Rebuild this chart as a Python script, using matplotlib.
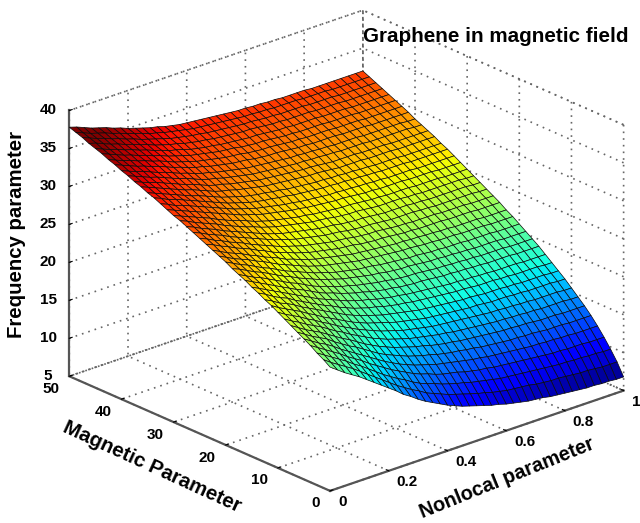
import numpy as np
import matplotlib
matplotlib.use('Agg')
import matplotlib.pyplot as plt

nonlocal_param = np.linspace(0, 1, 41)
magnetic_param = np.linspace(0, 50, 41)

# frequency parameter, one row per nonlocal value, columns run along magnetic parameter
freq = np.array([
    [21.3,21.9,22.4,23.0,23.5,24.0,24.5,25.0,25.5,26.0,26.4,26.9,27.3,27.8,28.2,28.6,29.1,29.5,29.9,30.3,30.7,31.1,31.5,31.9,32.2,32.6,33.0,33.4,33.7,34.1,34.4,34.8,35.1,35.5,35.8,36.2,36.5,36.8,37.2,37.5,37.8],
    [20.6,21.2,21.8,22.4,22.9,23.4,23.9,24.4,24.9,25.4,25.9,26.4,26.8,27.3,27.7,28.2,28.6,29.0,29.4,29.9,30.3,30.7,31.1,31.5,31.8,32.2,32.6,33.0,33.3,33.7,34.0,34.4,34.7,35.1,35.4,35.8,36.1,36.5,36.8,37.1,37.5],
    [19.9,20.6,21.2,21.8,22.3,22.8,23.3,23.9,24.4,24.9,25.3,25.8,26.3,26.8,27.2,27.7,28.1,28.5,28.9,29.4,29.8,30.2,30.6,31.0,31.4,31.8,32.1,32.5,32.9,33.3,33.6,34.0,34.3,34.7,35.0,35.4,35.7,36.1,36.4,36.7,37.1],
    [19.3,20.0,20.6,21.2,21.8,22.3,22.8,23.3,23.9,24.4,24.9,25.3,25.8,26.3,26.8,27.2,27.7,28.1,28.5,29.0,29.4,29.8,30.2,30.6,31.0,31.4,31.8,32.2,32.5,32.9,33.3,33.6,34.0,34.3,34.7,35.0,35.4,35.7,36.1,36.4,36.7],
    [18.7,19.4,20.0,20.6,21.2,21.8,22.3,22.8,23.3,23.9,24.4,24.9,25.3,25.8,26.3,26.8,27.2,27.7,28.1,28.5,28.9,29.4,29.8,30.2,30.6,31.0,31.4,31.8,32.1,32.5,32.9,33.3,33.6,34.0,34.3,34.7,35.0,35.4,35.7,36.1,36.4],
    [18.0,18.7,19.3,19.9,20.5,21.1,21.7,22.3,22.8,23.3,23.8,24.3,24.8,25.3,25.8,26.3,26.7,27.2,27.6,28.1,28.5,28.9,29.3,29.8,30.2,30.6,31.0,31.4,31.7,32.1,32.5,32.9,33.2,33.6,34.0,34.3,34.7,35.0,35.4,35.7,36.1],
    [17.3,18.0,18.7,19.3,19.9,20.5,21.1,21.7,22.2,22.8,23.3,23.8,24.3,24.8,25.3,25.8,26.3,26.8,27.2,27.7,28.1,28.5,28.9,29.3,29.7,30.2,30.6,31.0,31.3,31.7,32.1,32.5,32.9,33.3,33.6,34.0,34.3,34.7,35.0,35.4,35.7],
    [16.6,17.3,18.0,18.7,19.3,19.9,20.5,21.1,21.7,22.2,22.8,23.3,23.8,24.3,24.8,25.3,25.8,26.3,26.7,27.2,27.6,28.1,28.5,28.9,29.3,29.8,30.2,30.6,31.0,31.4,31.7,32.1,32.5,32.9,33.3,33.6,34.0,34.3,34.7,35.0,35.4],
    [15.9,16.6,17.3,18.0,18.7,19.4,20.0,20.6,21.1,21.7,22.3,22.8,23.3,23.9,24.4,24.9,25.3,25.8,26.3,26.8,27.2,27.7,28.1,28.5,28.9,29.4,29.8,30.2,30.6,31.0,31.4,31.8,32.1,32.5,32.9,33.3,33.6,34.0,34.3,34.7,35.0],
    [15.2,15.9,16.6,17.4,18.1,18.8,19.4,20.0,20.6,21.2,21.8,22.3,22.8,23.4,23.9,24.4,24.9,25.4,25.9,26.3,26.8,27.3,27.7,28.1,28.6,29.0,29.4,29.8,30.2,30.6,31.0,31.4,31.8,32.2,32.5,32.9,33.3,33.6,34.0,34.4,34.7],
    [14.4,15.2,16.0,16.8,17.5,18.2,18.8,19.5,20.1,20.7,21.3,21.9,22.4,22.9,23.4,24.0,24.5,25.0,25.4,25.9,26.4,26.9,27.3,27.8,28.2,28.6,29.0,29.4,29.8,30.2,30.6,31.0,31.4,31.8,32.2,32.6,32.9,33.3,33.7,34.0,34.4],
    [13.8,14.6,15.4,16.2,16.9,17.6,18.3,19.0,19.6,20.2,20.8,21.4,22.0,22.5,23.0,23.6,24.1,24.6,25.1,25.6,26.0,26.5,26.9,27.4,27.8,28.3,28.7,29.1,29.5,29.9,30.3,30.7,31.1,31.5,31.9,32.3,32.7,33.0,33.4,33.8,34.1],
    [13.1,14.0,14.9,15.7,16.4,17.1,17.8,18.5,19.2,19.8,20.4,21.0,21.6,22.2,22.7,23.2,23.7,24.2,24.7,25.2,25.7,26.2,26.6,27.1,27.5,28.0,28.4,28.8,29.2,29.7,30.1,30.5,30.9,31.3,31.6,32.0,32.4,32.8,33.1,33.5,33.9],
    [12.5,13.5,14.3,15.2,15.9,16.7,17.4,18.1,18.8,19.4,20.0,20.6,21.2,21.8,22.3,22.9,23.4,23.9,24.4,24.9,25.4,25.9,26.3,26.8,27.2,27.7,28.1,28.5,28.9,29.4,29.8,30.2,30.6,31.0,31.4,31.8,32.1,32.5,32.9,33.3,33.6],
    [12.0,12.9,13.8,14.7,15.5,16.3,17.0,17.7,18.4,19.1,19.7,20.3,20.9,21.5,22.0,22.6,23.1,23.6,24.1,24.6,25.1,25.6,26.1,26.6,27.0,27.5,27.9,28.3,28.7,29.2,29.6,30.0,30.4,30.8,31.2,31.6,31.9,32.3,32.7,33.1,33.4],
    [11.5,12.5,13.4,14.3,15.1,15.9,16.7,17.4,18.1,18.8,19.4,20.0,20.6,21.2,21.8,22.3,22.8,23.4,23.9,24.4,24.9,25.4,25.9,26.4,26.8,27.3,27.7,28.1,28.5,29.0,29.4,29.8,30.2,30.6,31.0,31.4,31.7,32.1,32.5,32.9,33.2],
    [11.0,12.1,13.1,14.0,14.8,15.6,16.4,17.1,17.8,18.5,19.1,19.8,20.4,21.0,21.5,22.1,22.6,23.2,23.7,24.2,24.7,25.2,25.7,26.2,26.6,27.1,27.5,28.0,28.4,28.8,29.2,29.6,30.0,30.4,30.8,31.2,31.6,32.0,32.4,32.7,33.1],
    [10.6,11.7,12.7,13.6,14.5,15.3,16.1,16.8,17.5,18.2,18.9,19.5,20.1,20.7,21.3,21.9,22.4,23.0,23.5,24.0,24.5,25.0,25.5,26.0,26.4,26.9,27.3,27.8,28.2,28.6,29.0,29.4,29.8,30.3,30.7,31.1,31.4,31.8,32.2,32.6,33.0],
    [10.2,11.4,12.4,13.3,14.2,15.1,15.9,16.6,17.3,18.0,18.7,19.3,19.9,20.5,21.1,21.7,22.2,22.8,23.3,23.8,24.3,24.8,25.3,25.8,26.3,26.8,27.2,27.7,28.1,28.5,28.9,29.3,29.7,30.2,30.6,31.0,31.3,31.7,32.1,32.5,32.9],
    [9.9,11.1,12.1,13.1,14.0,14.8,15.6,16.4,17.1,17.8,18.5,19.1,19.7,20.3,20.9,21.5,22.1,22.6,23.1,23.7,24.2,24.7,25.2,25.7,26.1,26.6,27.0,27.5,27.9,28.4,28.8,29.2,29.6,30.0,30.4,30.8,31.2,31.6,32.0,32.4,32.8],
    [9.6,10.8,11.9,12.9,13.8,14.6,15.4,16.2,16.9,17.6,18.3,19.0,19.6,20.2,20.8,21.4,22.0,22.5,23.0,23.6,24.1,24.6,25.1,25.6,26.0,26.5,26.9,27.4,27.8,28.3,28.7,29.1,29.5,29.9,30.3,30.7,31.1,31.5,31.9,32.3,32.7],
    [9.3,10.5,11.6,12.6,13.6,14.4,15.2,16.0,16.7,17.4,18.1,18.8,19.4,20.0,20.6,21.2,21.8,22.4,22.9,23.4,23.9,24.4,24.9,25.4,25.9,26.4,26.8,27.3,27.7,28.2,28.6,29.0,29.4,29.8,30.2,30.6,31.0,31.4,31.8,32.2,32.6],
    [9.0,10.3,11.4,12.4,13.4,14.3,15.1,15.9,16.6,17.3,18.0,18.7,19.3,19.9,20.5,21.1,21.7,22.3,22.8,23.3,23.8,24.3,24.8,25.3,25.8,26.3,26.7,27.2,27.6,28.1,28.5,28.9,29.3,29.8,30.2,30.6,31.0,31.4,31.7,32.1,32.5],
    [8.8,10.0,11.2,12.2,13.2,14.1,14.9,15.7,16.5,17.2,17.9,18.6,19.2,19.8,20.4,21.0,21.6,22.2,22.7,23.2,23.7,24.2,24.7,25.2,25.7,26.2,26.6,27.1,27.5,28.0,28.4,28.8,29.2,29.7,30.1,30.5,30.9,31.3,31.7,32.0,32.4],
    [8.5,9.8,11.0,12.1,13.1,14.0,14.8,15.6,16.4,17.1,17.8,18.5,19.1,19.8,20.4,21.0,21.5,22.1,22.6,23.2,23.7,24.2,24.7,25.2,25.7,26.2,26.6,27.1,27.5,28.0,28.4,28.8,29.2,29.6,30.0,30.4,30.8,31.2,31.6,32.0,32.4],
    [8.3,9.6,10.8,11.9,12.9,13.8,14.7,15.5,16.3,17.0,17.7,18.4,19.0,19.7,20.3,20.9,21.4,22.0,22.5,23.1,23.6,24.1,24.6,25.1,25.6,26.1,26.5,27.0,27.4,27.9,28.3,28.7,29.1,29.5,29.9,30.3,30.7,31.1,31.5,31.9,32.3],
    [8.1,9.5,10.7,11.8,12.8,13.7,14.6,15.4,16.2,16.9,17.6,18.3,18.9,19.6,20.2,20.8,21.4,22.0,22.5,23.0,23.5,24.0,24.5,25.0,25.5,26.0,26.5,27.0,27.4,27.8,28.2,28.7,29.1,29.5,29.9,30.3,30.7,31.1,31.5,31.9,32.3],
    [7.9,9.4,10.6,11.7,12.7,13.6,14.5,15.3,16.1,16.8,17.5,18.2,18.8,19.5,20.1,20.7,21.3,21.9,22.4,22.9,23.4,23.9,24.4,24.9,25.4,25.9,26.4,26.9,27.3,27.7,28.1,28.6,29.0,29.4,29.8,30.2,30.6,31.0,31.4,31.8,32.2],
    [7.8,9.3,10.5,11.6,12.6,13.5,14.4,15.2,16.0,16.8,17.5,18.2,18.8,19.5,20.1,20.7,21.2,21.8,22.4,22.9,23.4,23.9,24.4,24.9,25.4,25.9,26.4,26.9,27.3,27.7,28.1,28.6,29.0,29.4,29.8,30.2,30.6,31.0,31.4,31.8,32.2],
    [7.7,9.1,10.4,11.5,12.5,13.4,14.3,15.1,15.9,16.7,17.4,18.1,18.7,19.4,20.0,20.6,21.2,21.8,22.3,22.8,23.3,23.9,24.4,24.9,25.3,25.8,26.3,26.8,27.2,27.7,28.1,28.5,28.9,29.4,29.8,30.2,30.6,31.0,31.4,31.8,32.1],
    [7.5,9.0,10.3,11.4,12.4,13.4,14.3,15.1,15.9,16.6,17.3,18.0,18.7,19.4,20.0,20.6,21.1,21.7,22.3,22.8,23.3,23.9,24.4,24.9,25.3,25.8,26.3,26.8,27.2,27.7,28.1,28.5,28.9,29.4,29.8,30.2,30.6,31.0,31.4,31.8,32.1],
    [7.4,8.9,10.2,11.3,12.3,13.3,14.2,15.0,15.8,16.6,17.3,18.0,18.6,19.3,19.9,20.5,21.1,21.7,22.2,22.8,23.3,23.8,24.3,24.8,25.3,25.8,26.2,26.7,27.1,27.6,28.0,28.5,28.9,29.3,29.7,30.1,30.5,30.9,31.3,31.7,32.1],
    [7.3,8.9,10.1,11.2,12.3,13.3,14.2,15.0,15.8,16.6,17.3,18.0,18.6,19.3,19.9,20.5,21.1,21.7,22.2,22.8,23.3,23.8,24.3,24.8,25.3,25.8,26.2,26.7,27.1,27.6,28.0,28.5,28.9,29.3,29.7,30.1,30.5,30.9,31.3,31.7,32.1],
    [7.2,8.8,10.0,11.1,12.2,13.2,14.1,14.9,15.7,16.5,17.2,17.9,18.5,19.2,19.8,20.4,21.0,21.6,22.1,22.7,23.2,23.7,24.2,24.7,25.2,25.7,26.2,26.7,27.1,27.6,28.0,28.4,28.8,29.3,29.7,30.1,30.5,30.9,31.3,31.7,32.0],
    [7.1,8.7,10.0,11.1,12.2,13.1,14.0,14.9,15.7,16.5,17.2,17.9,18.5,19.2,19.8,20.4,21.0,21.6,22.1,22.7,23.2,23.7,24.2,24.7,25.2,25.7,26.2,26.7,27.1,27.6,28.0,28.4,28.8,29.3,29.7,30.1,30.5,30.9,31.3,31.7,32.0],
    [7.0,8.6,9.9,11.0,12.1,13.1,14.0,14.8,15.6,16.4,17.1,17.8,18.5,19.2,19.8,20.4,21.0,21.6,22.1,22.7,23.2,23.7,24.2,24.7,25.2,25.7,26.1,26.6,27.0,27.5,27.9,28.4,28.8,29.2,29.6,30.0,30.4,30.8,31.2,31.6,32.0],
    [7.0,8.6,9.9,11.0,12.1,13.1,14.0,14.8,15.6,16.4,17.1,17.8,18.5,19.2,19.8,20.4,21.0,21.6,22.1,22.7,23.2,23.7,24.2,24.7,25.2,25.7,26.1,26.6,27.0,27.5,27.9,28.4,28.8,29.2,29.6,30.0,30.4,30.8,31.2,31.6,32.0],
    [6.9,8.5,9.8,11.0,12.0,13.0,13.9,14.8,15.6,16.4,17.1,17.8,18.4,19.1,19.7,20.3,20.9,21.5,22.0,22.6,23.1,23.7,24.2,24.7,25.1,25.6,26.1,26.6,27.0,27.5,27.9,28.4,28.8,29.2,29.6,30.0,30.4,30.8,31.2,31.6,32.0],
    [6.9,8.4,9.8,10.9,12.0,13.0,13.9,14.8,15.6,16.4,17.1,17.8,18.4,19.1,19.7,20.3,20.9,21.5,22.0,22.6,23.1,23.7,24.2,24.7,25.1,25.6,26.1,26.6,27.0,27.5,27.9,28.4,28.8,29.2,29.6,30.0,30.4,30.8,31.2,31.6,32.0],
    [6.8,8.4,9.7,10.9,12.0,13.0,13.9,14.7,15.5,16.3,17.0,17.7,18.4,19.1,19.7,20.3,20.9,21.5,22.0,22.6,23.1,23.6,24.1,24.6,25.1,25.6,26.1,26.6,27.0,27.5,27.9,28.3,28.7,29.2,29.6,30.0,30.4,30.8,31.2,31.6,32.0],
    [6.8,8.4,9.7,10.9,12.0,13.0,13.9,14.7,15.5,16.3,17.0,17.7,18.4,19.1,19.7,20.3,20.9,21.5,22.0,22.6,23.1,23.6,24.1,24.6,25.1,25.6,26.1,26.6,27.0,27.5,27.9,28.3,28.7,29.2,29.6,30.0,30.4,30.8,31.2,31.6,32.0],
])

x_ticks = [0, 0.2, 0.4, 0.6, 0.8, 1]
x_labels = ['0', '0.2', '0.4', '0.6', '0.8', '1']
y_ticks = [0, 10, 20, 30, 40, 50]
z_ticks = [5, 10, 15, 20, 25, 30, 35, 40]

plt.rcParams['font.family'] = ['Liberation Sans', 'DejaVu Sans']
plt.rcParams['font.weight'] = 'bold'

fig = plt.figure(figsize=(6.4, 5.23), dpi=100)
# square axes bigger than the figure so the surface is not clipped
ax = fig.add_axes([(337 - 350) / 640, (263 - 350) / 523, 700 / 640, 700 / 523], projection='3d')
ax.set_proj_type('ortho')
ax.view_init(elev=22.8, azim=-131.4)
ax.set_box_aspect((393, 396, 289.5), zoom=0.868)

X, Y = np.meshgrid(nonlocal_param, magnetic_param, indexing='ij')
ax.plot_surface(X, Y, freq, cmap='jet', rstride=1, cstride=1, shade=False,
                edgecolor='#0a0a0a', linewidth=0.5, antialiased=True,
                vmin=6.8, vmax=36.5)

ax.set_xlim(0, 1, view_margin=0)
ax.set_ylim(0, 50, view_margin=0)
ax.set_zlim(5, 40, view_margin=0)
ax.set_xticks(x_ticks)
ax.set_xticklabels(x_labels)
ax.set_yticks(y_ticks)
ax.set_zticks(z_ticks)

dots = (0, (1, 3))
for axis in (ax.xaxis, ax.yaxis, ax.zaxis):
    axis.set_pane_color((1, 1, 1, 1))
    axis.pane.set_edgecolor('#666666')
    axis.pane.set_linestyle(dots)
    axis.pane.set_linewidth(1.2)
    axis.line.set_color('#555555')
    axis.line.set_linewidth(1.6)
    axis._axinfo['grid'].update(color='#666666', linestyle=dots, linewidth=1.2)
    axis._axinfo['tick'].update(inward_factor=0, outward_factor=0.12, color='#555555')
ax.tick_params(labelsize=11, colors='black')
ax.tick_params(axis='x', pad=0)
ax.tick_params(axis='y', pad=1)
ax.tick_params(axis='z', pad=2)
for t in ax.get_xticklabels():
    t.set_ha('left')
    t.set_va('center')
for t in ax.get_yticklabels():
    t.set_ha('right')
    t.set_va('center')
for t in ax.get_zticklabels():
    t.set_va('center')

fig.text(363 / 640, 1 - 37 / 523, 'Graphene in magnetic field', fontsize=14.9, va='center', ha='left')
fig.text(17 / 640, 1 - 235 / 523, 'Frequency parameter', fontsize=14.7, rotation=90, va='center', ha='center')
fig.text(152 / 640, 1 - 467 / 523, 'Magnetic Parameter', fontsize=14.7, rotation=-24.7, va='center', ha='center',
         rotation_mode='anchor')
fig.text(507 / 640, 1 - 478 / 523, 'Nonlocal parameter', fontsize=14.4, rotation=22, va='center', ha='center',
         rotation_mode='anchor')

fig.savefig('out.png', dpi=100)
